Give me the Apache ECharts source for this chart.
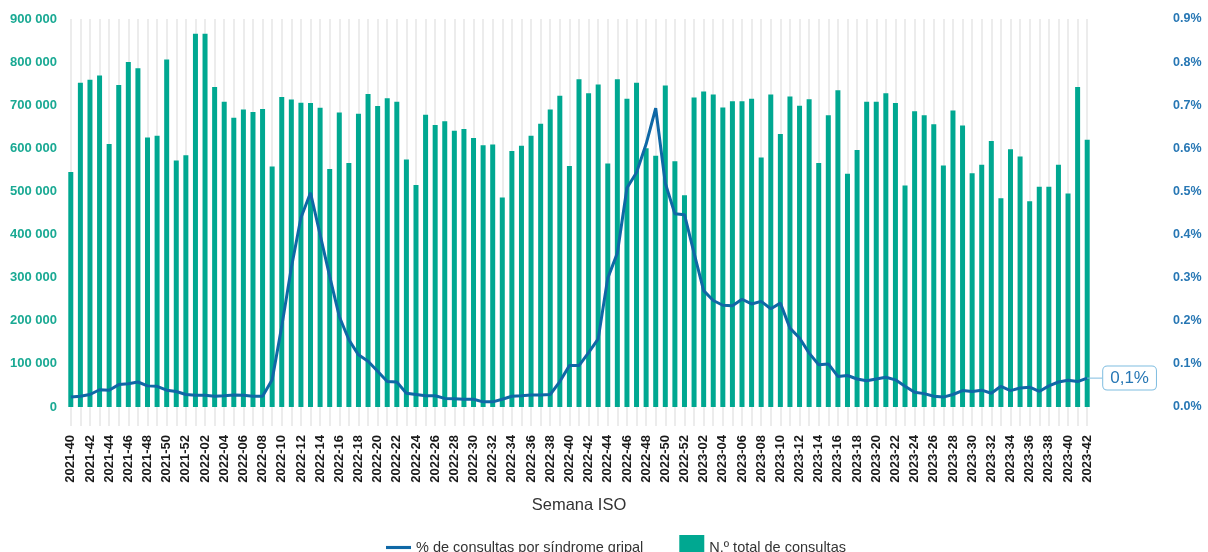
<!DOCTYPE html>
<html>
<head>
<meta charset="utf-8">
<script src="https://cdn.jsdelivr.net/npm/echarts@6/dist/echarts.min.js"></script>
<style>
html, body { margin: 0; padding: 0; background: #fff; }
#chart { width: 1208px; height: 552px; }
</style>
</head>
<body>
<div id="chart"></div>
<script>
// semanas ISO 2021-40 .. 2023-42
var semanas = [];
[[2021, 40, 52], [2022, 1, 52], [2023, 1, 42]].forEach(function (r) {
    for (var w = r[1]; w <= r[2]; w++) {
        semanas.push(r[0] + '-' + (w < 10 ? '0' + w : w));
    }
});

// N.º total de consultas
var consultas = [
    545000, 752000, 759000, 769000, 610000, 747000, 800000, 786000, 625000, 629000, 806000, 572000, 584000,
    866000, 866000, 742000, 708000, 671000, 690000, 684000, 691000, 558000, 719000, 713000, 706000, 705000,
    694000, 552000, 683000, 566000, 680000, 726000, 698000, 716000, 708000,
    574000, 515000, 678000, 654000, 663000, 641000, 645000, 624000, 607000, 609000,
    486000, 594000, 606000, 629000, 657000, 690000, 722000, 559000, 760000, 728000,
    748000, 565000, 760000, 715000, 752000, 600000, 583000, 746000, 570000, 491000,
    718000, 732000, 725000, 695000, 709000, 709000, 715000, 579000, 725000, 633000,
    720000, 699000, 714000, 566000, 677000, 735000, 541000, 596000, 708000, 708000,
    728000, 705000, 514000, 686000, 677000, 656000, 560000, 688000, 653000, 542000,
    562000, 617000, 484000, 598000, 581000, 477000, 511000, 511000, 562000, 495000,
    742000, 620000
];

// % de consultas por síndrome gripal
var pctGripal = [
    0.023, 0.025, 0.029, 0.040, 0.039, 0.052, 0.054, 0.058, 0.049, 0.048, 0.039, 0.036, 0.029,
    0.027, 0.027, 0.025, 0.026, 0.028, 0.027, 0.025, 0.025, 0.063, 0.187, 0.323, 0.439, 0.497,
    0.400, 0.303, 0.210, 0.156, 0.121, 0.106, 0.083, 0.059, 0.058,
    0.032, 0.029, 0.026, 0.026, 0.020, 0.019, 0.018, 0.018, 0.012, 0.012,
    0.018, 0.025, 0.026, 0.028, 0.028, 0.029, 0.059, 0.096, 0.096, 0.126,
    0.158, 0.299, 0.357, 0.508, 0.544, 0.610, 0.693, 0.519, 0.448, 0.446,
    0.357, 0.270, 0.247, 0.236, 0.235, 0.250, 0.239, 0.245, 0.228, 0.241,
    0.183, 0.160, 0.125, 0.098, 0.100, 0.071, 0.073, 0.065, 0.061, 0.065,
    0.069, 0.063, 0.048, 0.034, 0.031, 0.025, 0.023, 0.029, 0.038, 0.036,
    0.039, 0.032, 0.048, 0.038, 0.044, 0.046, 0.036, 0.049, 0.058, 0.062,
    0.059, 0.067
];

var verde = '#00a891';
var azul = '#0f68a6';

// solo la última semana lleva etiqueta
var lineData = pctGripal.map(function (v, i) {
    if (i === pctGripal.length - 1) {
        return { value: v, label: { show: true } };
    }
    return v;
});

var myChart = echarts.init(document.getElementById('chart'));
myChart.setOption({
    animation: false,
    textStyle: { fontFamily: 'Liberation Sans, Arial, sans-serif' },
    grid: { left: 66, right: 116, top: 19, bottom: 145 },
    legend: {
        left: 381,
        top: 530,
        itemWidth: 25,
        itemHeight: 25,
        itemGap: 36,
        textStyle: { color: '#333', fontSize: 14.5 },
        data: [
            { name: '% de consultas por síndrome gripal', icon: 'path://M0,11h24v3h-24z' },
            { name: 'N.º total de consultas', icon: 'rect' }
        ]
    },
    xAxis: {
        type: 'category',
        data: semanas,
        name: 'Semana ISO',
        nameLocation: 'middle',
        nameGap: 90,
        nameTextStyle: { color: '#333', fontSize: 16.5 },
        axisLine: { show: false },
        axisTick: {
            show: true,
            alignWithLabel: true,
            interval: 0,
            length: 19,
            lineStyle: { color: '#e6e6e6', width: 1.5 }
        },
        splitLine: {
            show: true,
            alignWithLabel: true,
            interval: 0,
            lineStyle: { color: '#e6e6e6', width: 1.5 }
        },
        axisLabel: {
            interval: 1,
            rotate: 90,
            margin: 28,
            color: '#1a1a1a',
            fontWeight: 'bold',
            fontSize: 13
        }
    },
    yAxis: [{
        type: 'value',
        min: 0,
        max: 900000,
        interval: 100000,
        splitLine: { show: false },
        axisLine: { show: false },
        axisTick: { show: false },
        axisLabel: {
            margin: 9,
            color: '#19a993',
            fontWeight: 'bold',
            fontSize: 13,
            formatter: function (v) {
                return String(v).replace(/\B(?=(\d{3})+(?!\d))/g, ' ');
            }
        }
    }, {
        type: 'value',
        min: 0,
        max: 0.9,
        interval: 0.1,
        position: 'right',
        splitLine: { show: false },
        axisLine: { show: false },
        axisTick: { show: false },
        axisLabel: {
            margin: 81,
            color: '#2777b4',
            fontWeight: 'bold',
            fontSize: 12.5,
            formatter: function (v) { return v.toFixed(1) + '%'; }
        }
    }],
    series: [{
        name: 'N.º total de consultas',
        type: 'bar',
        data: consultas,
        barWidth: 5,
        itemStyle: { color: verde },
        emphasis: { disabled: true }
    }, {
        name: '% de consultas por síndrome gripal',
        type: 'line',
        yAxisIndex: 1,
        data: lineData,
        symbol: 'circle',
        symbolSize: 0,
        showSymbol: true,
        lineStyle: { color: azul, width: 3 },
        itemStyle: { color: azul },
        emphasis: { disabled: true },
        z: 3,
        label: {
            show: false,
            position: 'right',
            distance: 0,
            color: '#2777b4',
            fontSize: 17,
            backgroundColor: '#fff',
            borderColor: '#7fbde0',
            borderWidth: 1,
            borderRadius: 4,
            padding: [3, 7, 3, 7],
            formatter: function (p) {
                return p.value.toFixed(1).replace('.', ',') + '%';
            }
        },
        labelLayout: { dx: 16 },
        labelLine: {
            show: true,
            length2: 0,
            lineStyle: { color: '#7fbde0', width: 1 }
        }
    }]
});
</script>
</body>
</html>
